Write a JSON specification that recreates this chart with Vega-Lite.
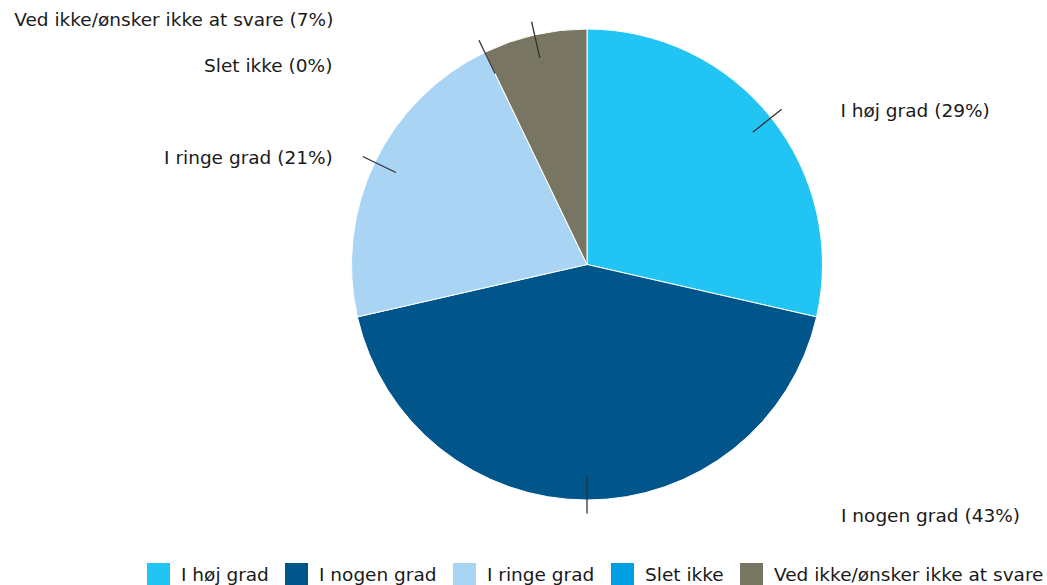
{
  "$schema": "https://vega.github.io/schema/vega-lite/v6.json",
  "width": 920,
  "height": 529,
  "autosize": {"type": "none"},
  "padding": {"left": 127, "top": 0, "right": 0, "bottom": 56},
  "background": "white",
  "config": {"view": {"stroke": null}, "font": "DejaVu Sans"},
  "data": {
    "values": [
      {"nr": 1, "kategori": "I høj grad", "antal": 4, "etiket": "I høj grad (29%)"},
      {"nr": 2, "kategori": "I nogen grad", "antal": 6, "etiket": "I nogen grad (43%)"},
      {"nr": 3, "kategori": "I ringe grad", "antal": 3, "etiket": "I ringe grad (21%)"},
      {"nr": 4, "kategori": "Slet ikke", "antal": 0, "etiket": "Slet ikke (0%)"},
      {"nr": 5, "kategori": "Ved ikke/ønsker ikke at svare", "antal": 1, "etiket": "Ved ikke/ønsker ikke at svare (7%)"}
    ]
  },
  "encoding": {
    "theta": {"field": "antal", "type": "quantitative", "stack": true},
    "order": {"field": "nr", "type": "quantitative", "sort": "ascending"}
  },
  "layer": [
    {
      "mark": {"type": "arc", "outerRadius": 235.5, "stroke": "white", "strokeWidth": 1},
      "encoding": {
        "color": {
          "field": "kategori",
          "type": "nominal",
          "scale": {
            "domain": ["I høj grad", "I nogen grad", "I ringe grad", "Slet ikke", "Ved ikke/ønsker ikke at svare"],
            "range": ["#22C4F4", "#00558A", "#A9D4F4", "#009FE3", "#787562"]
          },
          "legend": {
            "orient": "none",
            "legendX": 20,
            "legendY": 563,
            "direction": "horizontal",
            "title": null,
            "symbolType": "square",
            "symbolSize": 529,
            "symbolStrokeWidth": 0,
            "symbolOpacity": 1,
            "labelFontSize": 18.5,
            "labelFont": "DejaVu Sans",
            "labelColor": "#1a1a1a",
            "labelOffset": 11,
            "columnPadding": 16,
            "labelLimit": 400,
            "padding": 0
          }
        }
      }
    },
    {
      "mark": {"type": "arc", "innerRadius": 212, "outerRadius": 249, "padAngle": 3.1, "fillOpacity": 0, "stroke": "#333333", "strokeWidth": 1.3},
      "encoding": {}
    },
    {
      "mark": {"type": "text", "radius": 250, "align": "left", "baseline": "middle", "dx": 58, "dy": 2, "fontSize": 18.5, "font": "DejaVu Sans", "color": "#1a1a1a"},
      "encoding": {"text": {"condition": {"test": "datum.kategori === 'I høj grad'", "field": "etiket"}, "value": ""}}
    },
    {
      "mark": {"type": "text", "radius": 249, "align": "left", "baseline": "middle", "dx": 254, "dy": 2, "fontSize": 18.5, "font": "DejaVu Sans", "color": "#1a1a1a"},
      "encoding": {"text": {"condition": {"test": "datum.kategori === 'I nogen grad'", "field": "etiket"}, "value": ""}}
    },
    {
      "mark": {"type": "text", "radius": 250, "align": "right", "baseline": "middle", "dx": -29, "dy": 2, "fontSize": 18.5, "font": "DejaVu Sans", "color": "#1a1a1a"},
      "encoding": {"text": {"condition": {"test": "datum.kategori === 'I ringe grad'", "field": "etiket"}, "value": ""}}
    },
    {
      "mark": {"type": "text", "radius": 248, "align": "right", "baseline": "middle", "dx": -147, "dy": 25, "fontSize": 18.5, "font": "DejaVu Sans", "color": "#1a1a1a"},
      "encoding": {"text": {"condition": {"test": "datum.kategori === 'Slet ikke'", "field": "etiket"}, "value": ""}}
    },
    {
      "mark": {"type": "text", "radius": 250, "align": "right", "baseline": "middle", "dx": -198, "dy": -1, "fontSize": 18.5, "font": "DejaVu Sans", "color": "#1a1a1a"},
      "encoding": {"text": {"condition": {"test": "datum.kategori === 'Ved ikke/ønsker ikke at svare'", "field": "etiket"}, "value": ""}}
    }
  ]
}
